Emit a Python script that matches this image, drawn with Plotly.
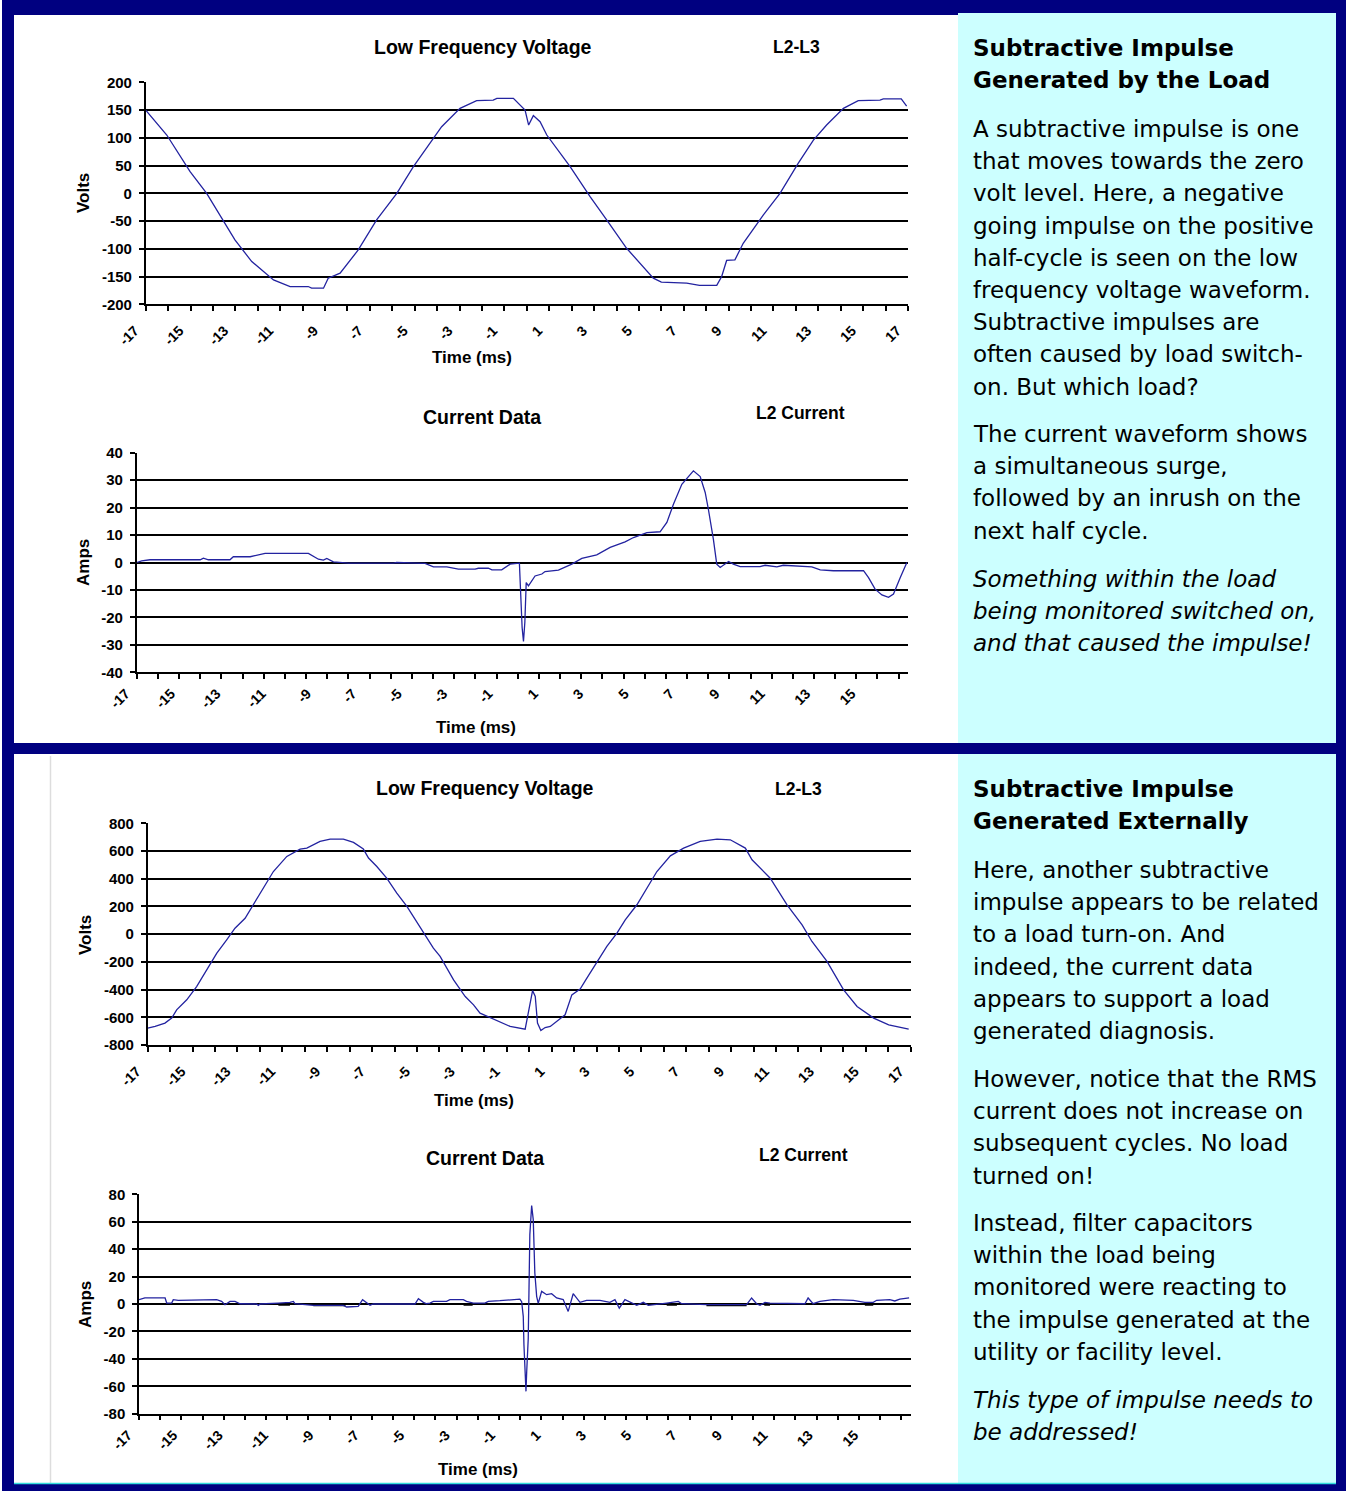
import plotly.graph_objects as go

W, H = 1346, 1491


def fx(p):
    return p / W


def fy(p):
    return 1 - p / H


# ---------------- data ----------------
# Panel 1: Low frequency voltage (L2-L3), subtractive impulse generated by load
t_volt1 = [-17, -16.06, -15.02, -14.28, -13.02, -12.27, -11.3, -10.56, -9.75, -9.6, -9.07, -8.86, -8.33,
           -7.52, -6.7, -5.8, -5.06, -4.17, -3.8, -2.98, -2.24, -1.5, -1.34, -0.6, -0.08, 0.08, 0.29, 0.59,
           0.89, 1.93, 2.82, 3.56, 4.45, 5.64, 6.0, 7.13, 7.7, 8.47, 8.69, 8.91, 9.28, 9.65, 10.55, 11.29,
           12.1, 12.78, 13.37, 14.12, 14.78, 15.75, 15.9, 16.7, 16.94]
v_volt1 = [150, 105, 39, 0, -84, -123, -156, -168, -168, -171, -171, -153, -144,
           -102, -48, 0, 48, 99, 120, 153, 167, 168, 171, 171, 150, 123, 140, 129,
           105, 48, -6, -48, -99, -153, -160, -162, -166, -166, -150, -121, -120, -90, -39, 0,
           54, 96, 123, 153, 167, 168, 170, 170, 157]

# Panel 1: L2 current
t_curr1 = [-17, -16.78, -16.41, -14.2, -14.06, -13.84, -12.89, -12.74, -12.0, -11.56, -11.34, -9.43, -8.99,
           -8.77, -8.62, -8.33, -7.67, -5.69, -5.54, -4.29, -3.92, -3.33, -2.82, -2.08, -1.94, -1.5, -1.34,
           -0.91, -0.54, -0.13, -0.07, -0.01, 0.05, 0.11, 0.17, 0.27, 0.56, 0.86, 1.0, 1.59, 2.18, 2.62, 3.28,
           3.87, 4.53, 4.9, 5.49, 6.07, 6.37, 6.66, 7.03, 7.54, 7.84, 8.06, 8.2, 8.42, 8.57, 8.72, 9.09, 9.3,
           9.6, 10.48, 10.7, 11.22, 11.5, 12.76, 13.13, 13.71, 15.04, 15.26, 15.55, 15.85, 16.14, 16.36,
           16.66, 16.95]
i_curr1 = [0, 0.6, 1.0, 1.0, 1.6, 1.0, 1.0, 2.1, 2.1, 2.8, 3.3, 3.3, 1.2,
           0.85, 1.5, 0.25, -0.25, -0.25, 0, -0.3, -1.6, -1.6, -2.4, -2.4, -2.1, -2.1, -2.7,
           -2.7, -0.6, -0.25, -14.6, -23.7, -28.8, -21.8, -7.3, -8.5, -4.9, -4.2, -3.3, -2.8, -0.6, 1.5, 2.8,
           5.5, 7.5, 9.1, 10.9, 11.2, 14.6, 21.2, 28.5, 33.4, 31.3, 25.5, 19.4, 8.5, -0.6, -1.8, 0.4, -0.6,
           -1.5, -1.5, -1.0, -1.6, -1.0, -1.6, -2.7, -3.0, -3.0, -5.5, -9.7, -11.8, -12.7, -11.5,
           -5.5, 0]

# Panel 2: Low frequency voltage (L2-L3), subtractive impulse generated externally
t_volt2 = [-17, -16.67, -16.23, -15.93, -15.71, -15.26, -14.82, -14.37, -13.92, -13.48, -13.11, -12.66, -12.29,
           -11.84, -11.4, -10.8, -10.21, -9.91, -9.32, -8.87, -8.28, -7.83, -7.39, -7.16, -6.79, -6.35, -5.9,
           -5.45, -5.01, -4.64, -4.27, -3.97, -3.37, -2.85, -2.48, -2.19, -1.67, -1.15, -0.85, -0.18, -0.03,
           0.15, 0.27, 0.37, 0.52, 0.71, 0.94, 1.24, 1.6, 1.9, 2.27, 2.57, 3.02, 3.46, 3.91, 4.28, 4.8, 5.25,
           5.69, 6.29, 6.88, 7.62, 8.37, 8.96, 9.63, 9.93, 10.74, 11.49, 12.16, 12.6, 13.27, 14.01, 14.61,
           15.35, 16.02, 16.91]
v_volt2 = [-678, -666, -642, -606, -546, -474, -378, -257, -137, -41, 43, 115, 212,
           332, 452, 561, 614, 621, 669, 686, 686, 662, 614, 549, 488, 404, 296,
           200, 91, -5, -101, -161, -330, -450, -510, -570, -606, -642, -666, -686, -570,
           -407, -450, -642, -695, -674, -666, -630, -582, -438, -397, -318, -197, -89, 7, 103, 212, 332,
           452, 565, 621, 669, 686, 681, 621, 537, 404, 212, 67, -53, -197, -402, -522,
           -606, -654, -686]

# Panel 2: L2 current
t_curr2 = [-17, -16.74, -15.85, -15.78, -15.56, -15.49, -15.27, -13.73, -13.58, -13.36, -13.21, -12.99, -12.77,
           -12.55, -11.82, -11.74, -11.67, -10.86, -10.35, -10.2, -10.13, -9.32, -8.0, -7.85, -7.56, -7.34,
           -7.15, -6.97, -6.82, -6.68, -4.84, -4.69, -4.47, -4.33, -4.18, -4.03, -3.45, -3.3, -2.71, -2.57,
           -2.27, -1.76, -1.61, -1.1, -0.36, -0.22, -0.14, -0.07, -0.04, 0.0, 0.05, 0.08, 0.15, 0.18, 0.22,
           0.3, 0.37, 0.44, 0.52, 0.59, 0.74, 0.96, 1.18, 1.4, 1.69, 1.91, 2.13, 2.43, 2.72, 3.31, 3.75, 3.97,
           4.16, 4.41, 4.7, 4.93, 5.22, 5.44, 6.25, 6.76, 6.91, 8.01, 9.77, 9.99, 10.21, 10.36, 10.58, 10.8,
           12.34, 12.48, 12.7, 13.0, 13.59, 14.47, 14.98, 15.35, 15.5, 16.08, 16.3, 16.52, 16.93]
i_curr2 = [3.2, 4.4, 4.4, 0.7, 0.7, 3.2, 2.7, 2.7, 3.2, 1.9, -0.5, 1.9, 1.9,
           0.2, 0, -1, 0, 0.7, 1.2, 1.9, 0.2, -1, -1, -2.2, -2.2, -1.7,
           3.2, 0.7, -1, 0, 0, 3.9, 1.2, 0.2, 0.7, 1.9, 1.9, 3.2, 3.2, 1.9,
           0.7, 0.7, 1.9, 2.4, 3.6, 3.6, 1.7, -9, -29.7, -51, -63.7, -50, -25, 8, 50.6,
           71.8, 61.5, 22.6, 5.6, 0.5, 9.2, 6.8, 7.5, 4.4, 3.2, -5.4, 7.5, 1.2, 2.7, 2.7, 1.2, 3.2,
           -3, 3.2, 0.7, -1, 1.2, -1, 0.7, 1.9, 0.2, -0.5, -0.5, 4.4, 0.2, -1, 1.2, 0.7,
           0.2, 4.4, 0.2, 1.9, 3.2, 2.7, 1.2, 1.2, 2.7, 3.2, 2.2, 3.6, 4.4]

# Panel 2: dark baseline segments visible on the current chart (near-zero readings)
t_curr2_base = [-10.86, -10.35, None, -9.32, -7.9, None, -2.7, -2.3, None, 6.25, 6.7, None, 8.0, 9.77, None,
                10.55, 10.8, None, 14.98, 15.35]
i_curr2_base = [-0.4, -0.4, None, -0.8, -0.8, None, -0.4, -0.4, None, -0.4, -0.4, None, -0.8, -0.8, None,
                -0.4, -0.4, None, -0.4, -0.4]

volt1_ticks = list(range(-200, 201, 50))
curr1_ticks = list(range(-40, 41, 10))
volt2_ticks = list(range(-800, 801, 200))
curr2_ticks = list(range(-80, 81, 20))
volt_time_labels = list(range(-17, 18, 2))
curr_time_labels = list(range(-17, 16, 2))

panel1_title = ["Subtractive Impulse", "Generated by the Load"]
panel1_body = ["A subtractive impulse is one", "that moves towards the zero", "volt level. Here, a negative",
               "going impulse on the positive", "half-cycle is seen on the low", "frequency voltage waveform.",
               "Subtractive impulses are", "often caused by load switch-", "on. But which load?"]
panel1_body2 = ["The current waveform shows", "a simultaneous surge,", "followed by an inrush on the",
                "next half cycle."]
panel1_italic = ["Something within the load", "being monitored switched on,", "and that caused the impulse!"]

panel2_title = ["Subtractive Impulse", "Generated Externally"]
panel2_body = ["Here, another subtractive", "impulse appears to be related", "to a load turn-on. And",
               "indeed, the current data", "appears to support a load", "generated diagnosis."]
panel2_body2 = ["However, notice that the RMS", "current does not increase on", "subsequent cycles. No load",
                "turned on!"]
panel2_body3 = ["Instead, filter capacitors", "within the load being", "monitored were reacting to",
                "the impulse generated at the", "utility or facility level."]
panel2_italic = ["This type of impulse needs to", "be addressed!"]

# ---------------- figure ----------------
NAVY = "#000080"
CYAN = "#CCFFFF"
LINE = "#2323a0"
CHART_FONT = "Liberation Sans"

fig = go.Figure()
fig.add_trace(go.Scatter(x=t_curr2_base, y=i_curr2_base, mode="lines", line=dict(color="black", width=2.5),
                         xaxis="x4", yaxis="y4", showlegend=False, hoverinfo="skip", connectgaps=False))
for xs, ys, xa, ya in [(t_volt1, v_volt1, "x", "y"), (t_curr1, i_curr1, "x2", "y2"),
                       (t_volt2, v_volt2, "x3", "y3"), (t_curr2, i_curr2, "x4", "y4")]:
    fig.add_trace(go.Scatter(x=xs, y=ys, mode="lines", line=dict(color=LINE, width=1.3),
                             xaxis=xa, yaxis=ya, showlegend=False, hoverinfo="skip"))


def yax(ticks, dom_top, dom_bot, anchor):
    return dict(range=[ticks[0], ticks[-1]], tickmode="array", tickvals=ticks,
                ticktext=[str(v) for v in ticks], automargin=False,
                showgrid=True, gridcolor="black", gridwidth=1.5, zeroline=False,
                showline=True, linecolor="black", linewidth=1.5,
                ticks="outside", ticklen=5, tickcolor="black", tickwidth=1.5,
                ticklabelstandoff=4,
                tickfont=dict(family=CHART_FONT, size=15, color="black", weight="bold"),
                domain=[fy(dom_bot), fy(dom_top)], anchor=anchor, fixedrange=True)


def xax(labels, dom_left, dom_right, anchor, minor_dtick, show_major_ticks):
    return dict(range=[-17, 17], tickmode="array", tickvals=labels, ticktext=[str(v) for v in labels],
                tickangle=-45, showgrid=False, zeroline=False, automargin=False,
                showline=True, linecolor="black", linewidth=1.5,
                ticks="outside" if show_major_ticks else "", ticklen=5, tickcolor="black", tickwidth=1.5,
                ticklabelshift=-11, ticklabelstandoff=6,
                tickfont=dict(family=CHART_FONT, size=14, color="black", weight="bold"),
                minor=dict(tick0=-17, dtick=minor_dtick, ticks="outside", ticklen=5,
                           tickcolor="black", tickwidth=1.5, showgrid=False),
                domain=[fx(dom_left), fx(dom_right)], anchor=anchor, fixedrange=True)


fig.update_layout(
    template="none",
    width=W, height=H, margin=dict(l=0, r=0, t=0, b=0, pad=0, autoexpand=False),
    paper_bgcolor=NAVY, plot_bgcolor="rgba(0,0,0,0)",
    xaxis=xax(volt_time_labels, 145.7, 908, "y", 1, True),
    yaxis=yax(volt1_ticks, 82.3, 304.3, "x"),
    xaxis2=xax(curr_time_labels, 136.7, 908, "y2", 0.933, False),
    yaxis2=yax(curr1_ticks, 452.7, 672.3, "x2"),
    xaxis3=xax(volt_time_labels, 147.7, 910.7, "y3", 1, True),
    yaxis3=yax(volt2_ticks, 823.3, 1045, "x3"),
    xaxis4=xax(curr_time_labels, 139, 910.7, "y4", 0.933, False),
    yaxis4=yax(curr2_ticks, 1194.3, 1413.7, "x4"),
)

shapes = []


def rect(x0, y0, x1, y1, color):
    shapes.append(dict(type="rect", xref="paper", yref="paper", x0=fx(x0), x1=fx(x1), y0=fy(y1), y1=fy(y0),
                       fillcolor=color, line=dict(width=0), layer="below"))


rect(14, 15, 958, 743, "white")
rect(958, 13, 1336, 743, CYAN)
rect(14, 754, 958, 1483, "white")
rect(958, 754, 1336, 1483, CYAN)
rect(0, 0, 2, H, "white")
shapes.append(dict(type="line", xref="paper", yref="paper", x0=fx(50.5), x1=fx(50.5), y0=fy(1483), y1=fy(756),
                   line=dict(color="#dddddd", width=1.5), layer="below"))
shapes.append(dict(type="line", xref="paper", yref="paper", x0=fx(14), x1=fx(1336), y0=fy(1483.5), y1=fy(1483.5),
                   line=dict(color="#33dddd", width=1.5), layer="below"))
fig.update_layout(shapes=shapes)

ann = []


def text(x, y, s, size, family=CHART_FONT, xanchor="center", angle=0):
    ann.append(dict(xref="paper", yref="paper", x=fx(x), y=fy(y), text=s, showarrow=False,
                    xanchor=xanchor, yanchor="middle", textangle=angle,
                    font=dict(family=family, size=size, color="black")))


for (ty, ly, vy, xl_y, title, sub, ylab, tx, lx, vx, xl_x) in [
    (47, 47, 193, 358, "Low Frequency Voltage", "L2-L3", "Volts", 483, 796, 83, 472),
    (417, 413, 563, 728, "Current Data", "L2 Current", "Amps", 482, 800, 83, 476),
    (788, 789, 935, 1100, "Low Frequency Voltage", "L2-L3", "Volts", 485, 798, 85, 474),
    (1158, 1155, 1305, 1469, "Current Data", "L2 Current", "Amps", 485, 803, 85, 478),
]:
    text(tx, ty, "<b>" + title + "</b>", 19.5)
    text(lx, ly, "<b>" + sub + "</b>", 17.5)
    text(vx, vy, "<b>" + ylab + "</b>", 17, angle=-90)
    text(xl_x, xl_y, "<b>Time (ms)</b>", 17)

TXT = "DejaVu Sans"
LH = 32.2


def block(lines, y0, fmt="{}"):
    for k, s in enumerate(lines):
        text(971, y0 + k * LH, fmt.format(s), 23, family=TXT, xanchor="left")


block(panel1_title, 48, "<b>{}</b>")
block(panel1_body, 129)
block(panel1_body2, 434)
block(panel1_italic, 579, "<i>{}</i>")

block(panel2_title, 789, "<b>{}</b>")
block(panel2_body, 870)
block(panel2_body2, 1079)
block(panel2_body3, 1223)
block(panel2_italic, 1400, "<i>{}</i>")

fig.update_layout(annotations=ann)

fig.write_html("out.html", config={"displayModeBar": False},
               post_script="document.body.style.margin='0';document.body.style.overflow='hidden';")
